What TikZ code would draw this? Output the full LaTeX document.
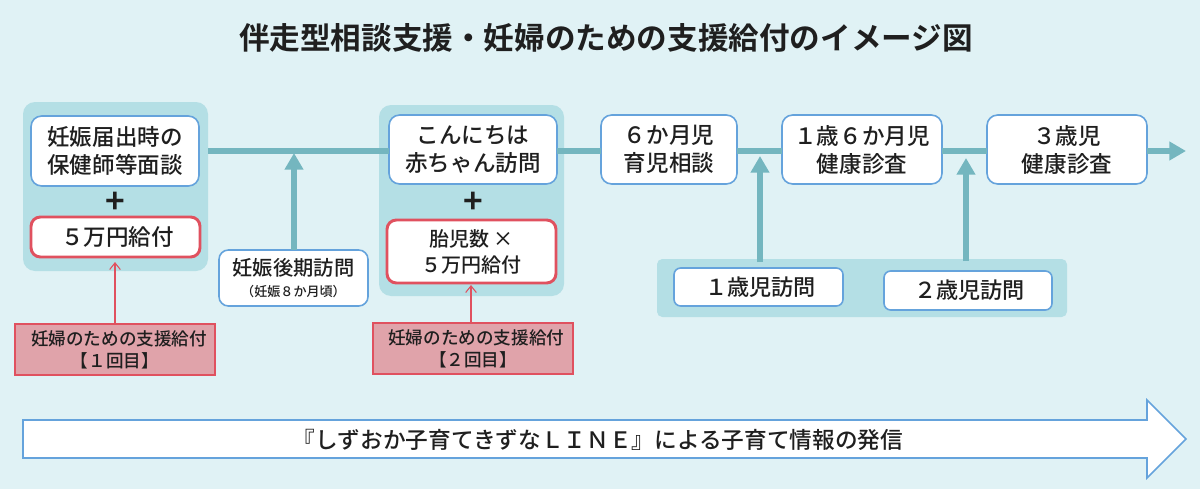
\documentclass[tikz,border=0pt]{standalone}
\usepackage{fontspec}
\setmainfont{Noto Sans CJK JP}
\newfontfamily\boldcjk{Noto Sans CJK JP Bold}
\newfontfamily\medcjk{Noto Sans CJK JP Medium}
\usetikzlibrary{arrows.meta,calc}
\definecolor{bgc}{HTML}{E0F2F5}
\definecolor{panelc}{HTML}{B4DFE5}
\definecolor{linec}{HTML}{74B6BF}
\definecolor{bluec}{HTML}{65A3DC}
\definecolor{redc}{HTML}{E0515F}
\definecolor{pinkc}{HTML}{E0A3AA}
\newcommand{\fs}[2]{\fontsize{#1}{#2}\selectfont}
\tikzset{
  x=0.75pt,y=-0.75pt,
  every node/.style={inner sep=0pt,outer sep=0pt,font=\medcjk,text=black!88,align=center},
  panel/.style={fill=panelc,rounded corners=9pt},
  bluebox/.style={draw=bluec,fill=white,line width=1.2pt,rounded corners=8pt,font=\medcjk\fs{16.9}{21}},
  redbox/.style={draw=redc,fill=white,line width=2.2pt,rounded corners=7pt,font=\medcjk\fs{16.5}{21}},
  pinkbox/.style={draw=redc,fill=pinkc,line width=0.9pt,font=\medcjk\fs{13.2}{16.5}},
  timeline/.style={draw=linec,line width=3.8pt},
  uparrow/.style={draw=linec,line width=3.8pt,-{Triangle[width=13.5pt,length=12.5pt]}},
  redarrow/.style={draw=redc,line width=0.8pt,-{Straight Barb[length=5pt,width=8pt]}},
  plusmark/.style={font=\boldcjk\fs{25}{25}},
  wsize/.style 2 args={minimum width=#1*0.75pt,minimum height=#2*0.75pt}
}
\begin{document}
\begin{tikzpicture}
\fill[bgc] (0,0) rectangle (1200,489);
\useasboundingbox (0,0) rectangle (1200,489);
\coordinate (L) at (0,151);
\node (title) at (606,38) {\boldcjk\fs{22.95}{28}伴走型相談支援・妊婦のための支援給付のイメージ図};

% panels
\node[panel,wsize={185}{169}] (panelA) at (115.5,186.5) {};
\node[panel,wsize={185}{191}] (panelB) at (471.5,200.5) {};
\node[panel,rounded corners=4pt,wsize={410}{58}] (panelC) at (862,288) {};

% main-line boxes
\node[bluebox,wsize={168}{70}] (boxA) at (115,151) {妊娠届出時の\\保健師等面談};
\node[bluebox,wsize={168}{69}] (boxB) at (473,149.5) {こんにちは\\赤ちゃん訪問};
\node[bluebox,wsize={136}{69}] (boxC) at (669,149.5) {６か月児\\育児相談};
\node[bluebox,wsize={160}{69}] (boxD) at (862,149.5) {１歳６か月児\\健康診査};
\node[bluebox,wsize={160}{69}] (boxE) at (1067,149.5) {３歳児\\健康診査};
\coordinate (lineEnd) at (1186,151);

% timeline
\draw[timeline] (panelA.east |- L) -- (boxB.west |- L);
\draw[timeline] (boxB.east |- L) -- (boxC.west |- L);
\draw[timeline] (boxC.east |- L) -- (boxD.west |- L);
\draw[timeline] (boxD.east |- L) -- (boxE.west |- L);
\draw[uparrow] (boxE.east |- L) -- (lineEnd);

% plus marks and payment boxes
\node[plusmark] (plusA) at (115,203) {+};
\node[plusmark] (plusB) at (473,203) {+};
\node[redbox,wsize={169}{40},font=\medcjk\fs{16.9}{21}] (payA) at (115.5,237) {\hspace*{3pt}５万円給付};
\node[redbox,wsize={169}{63},font=\medcjk\fs{15}{19.5}] (payB) at (471.5,251.5) {胎児数 ×\\５万円給付};

% visits
\node[bluebox,wsize={149}{56},rounded corners=7pt] (visitA) at (293.5,278) {\fs{15.2}{16}妊娠後期訪問\\[-5.5pt]{\fs{9.8}{11}（妊娠８か月頃）}};
\node[bluebox,wsize={169}{38},rounded corners=5pt] (visitB) at (758.5,287) {\fs{16.6}{20}\hspace*{3pt}１歳児訪問};
\node[bluebox,wsize={168}{39},rounded corners=5pt] (visitC) at (968,290.5) {\fs{16.6}{20}\hspace*{2pt}２歳児訪問};

\coordinate (tipA) at (294,153);
\coordinate (tipB) at (760,156);
\coordinate (tipC) at (966,158);
\draw[uparrow] (visitA.north -| tipA) -- (tipA);
\draw[uparrow] ($(panelC.north -| tipB)+(0,3)$) -- (tipB);
\draw[uparrow] ($(panelC.north -| tipC)+(0,2)$) -- (tipC);

% pink labels
\node[pinkbox,wsize={200}{51}] (pinkA) at (115,349.5) {\hspace*{6pt}妊婦のための支援給付\\【１回目】};
\node[pinkbox,wsize={200}{51}] (pinkB) at (473,348.5) {\hspace*{5pt}妊婦のための支援給付\\【２回目】};
\draw[redarrow] (pinkA.north) -- ($(payA.south -| pinkA.north)+(0,5)$);
\coordinate (pinkBtop) at ($(pinkB.north)+(-2,0)$);
\draw[redarrow] (pinkBtop) -- ($(payB.south -| pinkBtop)+(0,2)$);

% long arrow
\draw[draw=bluec,fill=white,line width=1.2pt] (23,420) -- (1147,420) -- (1147,400) -- (1186,439) -- (1147,478) -- (1147,458) -- (23,458) -- cycle;
\node (info) at (598,440) {\medcjk\fs{17}{20}『しずおか子育てきずなＬＩＮＥ』による子育て情報の発信};
\end{tikzpicture}
\end{document}
